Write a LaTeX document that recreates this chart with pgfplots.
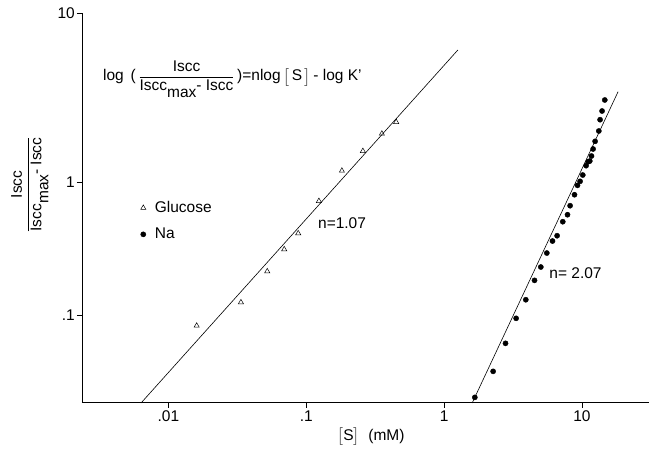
\documentclass[border=0pt]{standalone}
\usepackage{pgfplots}
\pgfplotsset{compat=1.18}
\usepackage{amsmath}
\usepackage{fontspec}
\setmainfont{Liberation Sans}

% the y decades in the scan are not equal: 1..10 is longer than .1..1
\pgfplotsset{
  scan y/.style={
    y coord trafo/.code={\pgfmathparse{##1>=1 ? 73.397*ln(##1) : 57.761*ln(##1)}},
  },
}
\newcommand{\ratio}{$\dfrac{\text{Iscc}}{\text{Iscc\raisebox{-0.45em}{max}- Iscc}}$}

\begin{document}
\begin{tikzpicture}[font=\fontsize{15.5}{18}\selectfont]
\begin{axis}[
  scale only axis,
  width=567pt, height=390pt,
  xmode=log,
  scan y,
  xmin=0.00236, xmax=30.5,
  ymin=0.0218, ymax=10,
  xtick={0.01,0.1,1,10}, xticklabels={.01,.1,1,10},
  ytick={0.1,1,10}, yticklabels={.1,1,10},
  xminorticks=false, yminorticks=false,
  axis lines=left,
  axis line style={-, line width=0.7pt},
  tick align=outside,
  major tick length=5pt,
  tick style={black, line width=0.7pt},
  xticklabel style={inner sep=2pt, yshift=-1pt},
  yticklabel style={inner sep=2pt},
  xlabel={$\big[$S$\big]$\ \ (mM)},
  xlabel style={at={(axis description cs:0.51,0)}, anchor=north, yshift=-22pt},
  legend style={draw=none, fill=none, at={(0.098,0.527)}, anchor=north west,
    row sep=10pt, column sep=7pt},
  legend cell align=left,
  clip=false,
]
% glucose
\addplot[only marks, mark=triangle, mark size=3pt, mark options={line width=0.5pt}]
  coordinates {
  (0.01604,0.0831) (0.03361,0.1246) (0.05215,0.2131) (0.06926,0.3119)
  (0.08750,0.4113) (0.1236,0.7196) (0.1815,1.166) (0.2577,1.525)
  (0.3539,1.931) (0.4494,2.265)
  };
\addlegendentry{Glucose}
% Na
\addplot[only marks, mark=*, mark size=2.6pt]
  coordinates {
  (1.672,0.02405) (2.270,0.03773) (2.792,0.06127) (3.333,0.09445)
  (3.919,0.1303) (4.532,0.1823) (5.035,0.2296) (5.567,0.2925)
  (6.120,0.3600) (6.609,0.3947) (7.268,0.5029) (7.864,0.5677)
  (8.212,0.6635) (8.838,0.8025) (9.292,0.9445) (9.703,1.0096)
  (10.15,1.100) (10.73,1.249) (11.09,1.318) (11.41,1.331)
  (11.74,1.425) (12.06,1.568) (12.47,1.741) (13.27,2.004)
  (13.55,2.337) (14.01,2.631) (14.66,3.057)
  };
\addlegendentry{Na}
% fitted lines
\addplot[forget plot, black, line width=0.6pt] coordinates {(0.00633,0.0218) (0.1741,1) (1.259,6.04)};
\addplot[forget plot, black, line width=0.6pt] coordinates {(1.599,0.0218) (9.033,1) (18.30,3.422)};

% y label, drawn by hand so its rotation is plain
\node[rotate=90, anchor=center] at (rel axis cs:-0.092,0.56) {\ratio};
\node[anchor=west, inner sep=0pt] at (rel axis cs:0.037,0.83)
  {log\ \,(\,\ratio\,)=nlog\,$\big[$\,S\,$\big]$\,- log K'};
\node at (rel axis cs:0.459,0.4615) {n=1.07};
\node at (rel axis cs:0.871,0.333) {n= 2.07};
\end{axis}
\path (current axis.south west) ++(-82pt,-52pt);
\path (current axis.north east) ++(0,13pt);
\end{tikzpicture}
\end{document}
